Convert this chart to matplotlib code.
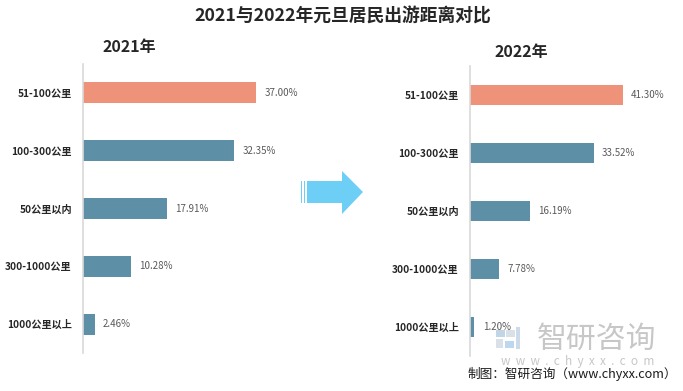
import matplotlib
matplotlib.use("Agg")
import matplotlib.pyplot as plt
from matplotlib.patches import Polygon, Rectangle

plt.rcParams['font.family'] = ['Noto Sans CJK SC', 'DejaVu Sans']

categories = ["51-100公里", "100-300公里", "50公里以内", "300-1000公里", "1000公里以上"]
values_2021 = [37.00, 32.35, 17.91, 10.28, 2.46]
values_2022 = [41.30, 33.52, 16.19, 7.78, 1.20]
value_labels_2021 = ["37.00%", "32.35%", "17.91%", "10.28%", "2.46%"]
value_labels_2022 = ["41.30%", "33.52%", "16.19%", "7.78%", "1.20%"]
highlight = "51-100公里"

W, H = 683, 391
fig = plt.figure(figsize=(W / 100, H / 100), dpi=100)
fig.patch.set_facecolor("white")

SALMON = "#EE927A"
TEAL = "#5D90A6"


def px_axes(x0, y0, x1, y1):
    return fig.add_axes([x0 / W, (H - y1) / H, (x1 - x0) / W, (y1 - y0) / H])


def draw_panel(ax, vals, labels):
    y = list(range(len(categories)))
    colors = [SALMON if c == highlight else TEAL for c in categories]
    ax.barh(y, vals, height=0.36, color=colors, edgecolor="none")
    ax.set_ylim(len(categories) - 0.5, -0.5)
    ax.set_xlim(0, 52.8)
    ax.set_yticks(y)
    ax.set_yticklabels(categories, fontsize=7.3, fontweight="bold", color="#262626")
    ax.tick_params(axis="y", length=0, pad=8)
    ax.set_xticks([])
    for s in ["top", "right", "bottom"]:
        ax.spines[s].set_visible(False)
    ax.spines["left"].set_color("#D9D9D9")
    ax.spines["left"].set_linewidth(1.2)
    for yi, v, lab in zip(y, vals, labels):
        ax.annotate(lab, (v, yi), xytext=(6, 0), textcoords="offset points",
                    va="center", ha="left", fontsize=7, color="#595959")
    ax.patch.set_alpha(0)


ax1 = px_axes(83, 64, 330, 353)
draw_panel(ax1, values_2021, value_labels_2021)
ax2 = px_axes(470, 66, 665, 356)
draw_panel(ax2, values_2022, value_labels_2022)

# Titles
fig.text(343 / W, 1 - 17 / H, "2021与2022年元旦居民出游距离对比", ha="center", va="center",
         fontsize=12.8, fontweight="bold", color="#262626")
fig.text(129 / W, 1 - 47 / H, "2021年", ha="center", va="center",
         fontsize=11.5, fontweight="bold", color="#262626")
fig.text(521 / W, 1 - 52 / H, "2022年", ha="center", va="center",
         fontsize=11.5, fontweight="bold", color="#262626")

# Arrow (decoration)
def fp(x, y):
    return (x / W, 1 - y / H)

ARROW = "#6DCFF6"
arrow_pts = [fp(307, 181), fp(342, 181), fp(342, 171), fp(363, 192),
             fp(342, 214), fp(342, 203), fp(307, 203)]
fig.patches.append(Polygon(arrow_pts, closed=True, facecolor=ARROW, edgecolor="none",
                           transform=fig.transFigure, figure=fig))
for x0, w in [(301, 1.2), (303.5, 1.6)]:
    fig.patches.append(Rectangle(fp(x0, 203), w / W, 22 / H, facecolor=ARROW,
                                 edgecolor="none", transform=fig.transFigure, figure=fig))

# Watermark logo
logo = [(496, 330, 9, 7, "#A9C4DA"), (506, 330, 9, 7, "#C9D3DD"), (496, 339, 7, 9, "#C9D3DD"),
        (505, 341, 9, 7, "#9FC8E8"), (516, 327, 4, 22, "#B6CDE0")]
for x0, y0, w, h, c in logo:
    fig.patches.append(Rectangle(fp(x0, y0 + h), w / W, h / H, facecolor=c, alpha=0.7,
                                 edgecolor="none", transform=fig.transFigure, figure=fig))
fig.text(597 / W, 1 - 339 / H, "智研咨询", ha="center", va="center", fontsize=21.5,
         color="#BDBDBD", alpha=0.85)
fig.text(578 / W, 1 - 362 / H, "w  w  w  .  c  h  y  x  x  .  c  o  m", ha="center", va="center",
         fontsize=8.5, color="#BDBDBD", alpha=0.85)

# Source
fig.text(467 / W, 1 - 374 / H, "制图：智研咨询（www.chyxx.com）", ha="left", va="center",
         fontsize=9.1, color="#1A1A1A")

fig.savefig("out.png", dpi=100, facecolor="white")
